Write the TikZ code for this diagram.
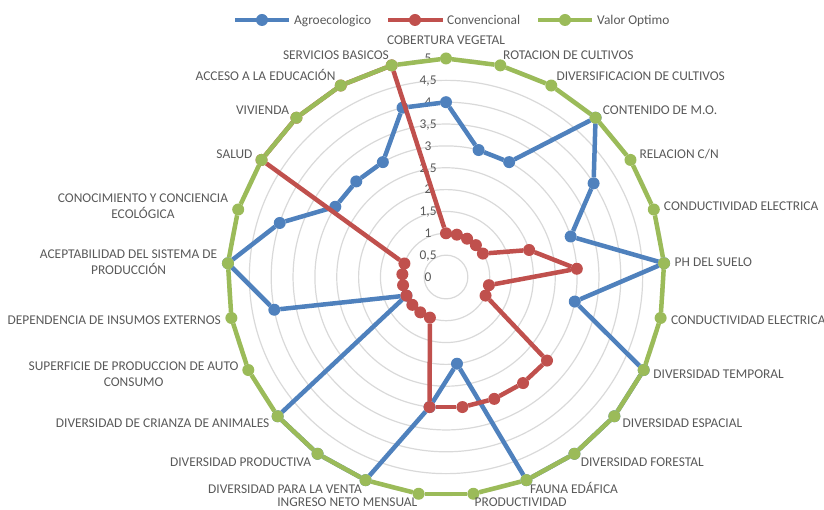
\documentclass[tikz,border=0pt]{standalone}
\usepackage{fontspec}
\setmainfont{Carlito}
\definecolor{agroblue}{HTML}{4F81BD}
\definecolor{convred}{HTML}{C0504D}
\definecolor{optgreen}{HTML}{9BBB59}
\definecolor{labgray}{HTML}{595959}
\definecolor{ringgray}{HTML}{D9D9D9}
\tikzset{
  dot/.style={circle, fill, draw=none, inner sep=0pt, outer sep=0pt, minimum size=12pt},
  agrodot/.style={dot, fill=agroblue},
  convdot/.style={dot, fill=convred},
  optdot/.style={dot, fill=optgreen},
  agroline/.style={draw=agroblue, line width=4.5pt},
  convline/.style={draw=convred, line width=4.5pt},
  optline/.style={draw=optgreen, line width=4.5pt},
  ring/.style={draw=ringgray, line width=1.2pt},
  txt/.style={text=labgray, inner sep=0pt, font=\fontsize{13.4}{16}\selectfont},
  axislab/.style={txt, text height=8.6pt, text depth=0pt},
  axislabm/.style={txt, align=center},
  ticklab/.style={txt, text height=8.6pt, text depth=0pt}
}
\begin{document}
\begin{tikzpicture}[x=1pt, y=-1pt]
  \useasboundingbox (0,0) rectangle (824,510);
  % legend
  \coordinate (lega-w) at (235,20);
  \coordinate (lega-e) at (289,20);
  \coordinate (legc-w) at (388,20);
  \coordinate (legc-e) at (443,20);
  \coordinate (legv-w) at (538,20);
  \coordinate (legv-e) at (592,20);
  \draw[agroline] (lega-w) -- (lega-e);
  \draw[convline] (legc-w) -- (legc-e);
  \draw[optline] (legv-w) -- (legv-e);
  \node[agrodot] (lega) at (262,20) {};
  \node[convdot] (legc) at (415,20) {};
  \node[optdot] (legv) at (565,20) {};
  \node[axislab, anchor=west] (legat) at (294,20) {Agroecologico};
  \node[axislab, anchor=west] (legct) at (447,20) {Convencional};
  \node[axislab, anchor=west] (legvt) at (597,20) {Valor Optimo};

  \begin{scope}[shift={(446,277)}, x=43.7pt, y=-43.7pt]
    % rings
    \draw[ring] (0,0) circle (0.5);
    \draw[ring] (0,0) circle (1);
    \draw[ring] (0,0) circle (1.5);
    \draw[ring] (0,0) circle (2);
    \draw[ring] (0,0) circle (2.5);
    \draw[ring] (0,0) circle (3);
    \draw[ring] (0,0) circle (3.5);
    \draw[ring] (0,0) circle (4);
    \draw[ring] (0,0) circle (4.5);
    \draw[ring] (0,0) circle (5);

    % scale
    \node[ticklab] (t0) at (-0.41,0) {0};
    \node[ticklab] (t1) at (-0.41,-0.5) {0,5};
    \node[ticklab] (t2) at (-0.41,-1) {1};
    \node[ticklab] (t3) at (-0.41,-1.5) {1,5};
    \node[ticklab] (t4) at (-0.41,-2) {2};
    \node[ticklab] (t5) at (-0.41,-2.5) {2,5};
    \node[ticklab] (t6) at (-0.41,-3) {3};
    \node[ticklab] (t7) at (-0.41,-3.5) {3,5};
    \node[ticklab] (t8) at (-0.41,-4) {4};
    \node[ticklab] (t9) at (-0.41,-4.5) {4,5};
    \node[ticklab] (t10) at (-0.41,-5) {5};

    % Agroecologico
    \draw
      (-90.0:4) node[agrodot] (a0) {}
      (-75.6:3) node[agrodot] (a1) {}
      (-61.2:3) node[agrodot] (a2) {}
      (-46.8:5) node[agrodot] (a3) {}
      (-32.4:4) node[agrodot] (a4) {}
      (-18.0:3) node[agrodot] (a5) {}
      (-3.6:5) node[agrodot] (a6) {}
      (10.8:3) node[agrodot] (a7) {}
      (25.2:5) node[agrodot] (a8) {}
      (39.6:5) node[agrodot] (a9) {}
      (54.0:5) node[agrodot] (a10) {}
      (68.4:5) node[agrodot] (a11) {}
      (82.8:2) node[agrodot] (a12) {}
      (97.2:3) node[agrodot] (a13) {}
      (111.6:5) node[agrodot] (a14) {}
      (126.0:5) node[agrodot] (a15) {}
      (140.4:5) node[agrodot] (a16) {}
      (154.8:1) node[agrodot] (a17) {}
      (169.2:4) node[agrodot] (a18) {}
      (183.6:5) node[agrodot] (a19) {}
      (198.0:4) node[agrodot] (a20) {}
      (212.4:3) node[agrodot] (a21) {}
      (226.8:3) node[agrodot] (a22) {}
      (241.2:3) node[agrodot] (a23) {}
      (255.6:4) node[agrodot] (a24) {};
    \begin{scope}[agroline]
      \draw (a0) to (a1);
      \draw (a1) to (a2);
      \draw (a2) to (a3);
      \draw (a3) to (a4);
      \draw (a4) to (a5);
      \draw (a5) to (a6);
      \draw (a6) to (a7);
      \draw (a7) to (a8);
      \draw (a8) to (a9);
      \draw (a9) to (a10);
      \draw (a10) to (a11);
      \draw (a11) to (a12);
      \draw (a12) to (a13);
      \draw (a13) to (a14);
      \draw (a14) to (a15);
      \draw (a15) to (a16);
      \draw (a16) to (a17);
      \draw (a17) to (a18);
      \draw (a18) to (a19);
      \draw (a19) to (a20);
      \draw (a20) to (a21);
      \draw (a21) to (a22);
      \draw (a22) to (a23);
      \draw (a23) to (a24);
      \draw (a24) to (a0);
    \end{scope}

    % Convencional
    \draw
      (-90.0:1) node[convdot] (c0) {}
      (-75.6:1) node[convdot] (c1) {}
      (-61.2:1) node[convdot] (c2) {}
      (-46.8:1) node[convdot] (c3) {}
      (-32.4:1) node[convdot] (c4) {}
      (-18.0:2) node[convdot] (c5) {}
      (-3.6:3) node[convdot] (c6) {}
      (10.8:1) node[convdot] (c7) {}
      (25.2:1) node[convdot] (c8) {}
      (39.6:3) node[convdot] (c9) {}
      (54.0:3) node[convdot] (c10) {}
      (68.4:3) node[convdot] (c11) {}
      (82.8:3) node[convdot] (c12) {}
      (97.2:3) node[convdot] (c13) {}
      (111.6:1) node[convdot] (c14) {}
      (126.0:1) node[convdot] (c15) {}
      (140.4:1) node[convdot] (c16) {}
      (154.8:1) node[convdot] (c17) {}
      (169.2:1) node[convdot] (c18) {}
      (183.6:1) node[convdot] (c19) {}
      (198.0:1) node[convdot] (c20) {}
      (212.4:5) node[convdot] (c21) {}
      (226.8:5) node[convdot] (c22) {}
      (241.2:5) node[convdot] (c23) {}
      (255.6:5) node[convdot] (c24) {};
    \begin{scope}[convline]
      \draw (c0) to (c1);
      \draw (c1) to (c2);
      \draw (c2) to (c3);
      \draw (c3) to (c4);
      \draw (c4) to (c5);
      \draw (c5) to (c6);
      \draw (c6) to (c7);
      \draw (c7) to (c8);
      \draw (c8) to (c9);
      \draw (c9) to (c10);
      \draw (c10) to (c11);
      \draw (c11) to (c12);
      \draw (c12) to (c13);
      \draw (c13) to (c14);
      \draw (c14) to (c15);
      \draw (c15) to (c16);
      \draw (c16) to (c17);
      \draw (c17) to (c18);
      \draw (c18) to (c19);
      \draw (c19) to (c20);
      \draw (c20) to (c21);
      \draw (c21) to (c22);
      \draw (c22) to (c23);
      \draw (c23) to (c24);
      \draw (c24) to (c0);
    \end{scope}

    % Valor Optimo
    \draw
      (-90.0:5) node[optdot] (v0) {}
      (-75.6:5) node[optdot] (v1) {}
      (-61.2:5) node[optdot] (v2) {}
      (-46.8:5) node[optdot] (v3) {}
      (-32.4:5) node[optdot] (v4) {}
      (-18.0:5) node[optdot] (v5) {}
      (-3.6:5) node[optdot] (v6) {}
      (10.8:5) node[optdot] (v7) {}
      (25.2:5) node[optdot] (v8) {}
      (39.6:5) node[optdot] (v9) {}
      (54.0:5) node[optdot] (v10) {}
      (68.4:5) node[optdot] (v11) {}
      (82.8:5) node[optdot] (v12) {}
      (97.2:5) node[optdot] (v13) {}
      (111.6:5) node[optdot] (v14) {}
      (126.0:5) node[optdot] (v15) {}
      (140.4:5) node[optdot] (v16) {}
      (154.8:5) node[optdot] (v17) {}
      (169.2:5) node[optdot] (v18) {}
      (183.6:5) node[optdot] (v19) {}
      (198.0:5) node[optdot] (v20) {}
      (212.4:5) node[optdot] (v21) {}
      (226.8:5) node[optdot] (v22) {}
      (241.2:5) node[optdot] (v23) {}
      (255.6:5) node[optdot] (v24) {};
    \begin{scope}[optline]
      \draw (v0) to (v1);
      \draw (v1) to (v2);
      \draw (v2) to (v3);
      \draw (v3) to (v4);
      \draw (v4) to (v5);
      \draw (v5) to (v6);
      \draw (v6) to (v7);
      \draw (v7) to (v8);
      \draw (v8) to (v9);
      \draw (v9) to (v10);
      \draw (v10) to (v11);
      \draw (v11) to (v12);
      \draw (v12) to (v13);
      \draw (v13) to (v14);
      \draw (v14) to (v15);
      \draw (v15) to (v16);
      \draw (v16) to (v17);
      \draw (v17) to (v18);
      \draw (v18) to (v19);
      \draw (v19) to (v20);
      \draw (v20) to (v21);
      \draw (v21) to (v22);
      \draw (v22) to (v23);
      \draw (v23) to (v24);
      \draw (v24) to (v0);
    \end{scope}

    % category labels
    \node[axislab, anchor=south] (l0) at (-90.0:5.32) {COBERTURA VEGETAL};
    \node[axislab, anchor=west] (l1) at (-75.6:5.24) {ROTACION DE CULTIVOS};
    \node[axislab, anchor=west] (l2) at (-61.2:5.24) {DIVERSIFICACION DE CULTIVOS};
    \node[axislab, anchor=west] (l3) at (-46.8:5.24) {CONTENIDO DE M.O.};
    \node[axislab, anchor=west] (l4) at (-32.4:5.24) {RELACION C/N};
    \node[axislab, anchor=west] (l5) at (-18.0:5.24) {CONDUCTIVIDAD ELECTRICA};
    \node[axislab, anchor=west] (l6) at (-3.6:5.24) {PH DEL SUELO};
    \node[axislab, anchor=west] (l7) at (10.8:5.24) {CONDUCTIVIDAD ELECTRICA};
    \node[axislab, anchor=west] (l8) at (25.2:5.24) {DIVERSIDAD TEMPORAL};
    \node[axislab, anchor=west] (l9) at (39.6:5.24) {DIVERSIDAD ESPACIAL};
    \node[axislab, anchor=west] (l10) at (54.0:5.24) {DIVERSIDAD FORESTAL};
    \node[axislab, anchor=west] (l11) at (68.4:5.22) {FAUNA EDÁFICA};
    \node[axislab, anchor=west] (l12) at (82.8:5.2) {PRODUCTIVIDAD};
    \node[axislab, anchor=east] (l13) at (97.2:5.2) {INGRESO NETO MENSUAL};
    \node[axislab, anchor=east] (l14) at (111.6:5.22) {DIVERSIDAD PARA LA VENTA};
    \node[axislab, anchor=east] (l15) at (126.0:5.24) {DIVERSIDAD PRODUCTIVA};
    \node[axislab, anchor=east] (l16) at (140.4:5.24) {DIVERSIDAD DE CRIANZA DE ANIMALES};
    \node[axislabm, anchor=east] (l17) at (154.8:5.24) {SUPERFICIE DE PRODUCCION DE AUTO\\CONSUMO};
    \node[axislab, anchor=east] (l18) at (169.2:5.24) {DEPENDENCIA DE INSUMOS EXTERNOS};
    \node[axislabm, anchor=east] (l19) at (183.6:5.24) {ACEPTABILIDAD DEL SISTEMA DE\\PRODUCCIÓN};
    \node[axislabm, anchor=east] (l20) at (198.0:5.24) {CONOCIMIENTO Y CONCIENCIA\\ECOLÓGICA};
    \node[axislab, anchor=east] (l21) at (212.4:5.24) {SALUD};
    \node[axislab, anchor=east] (l22) at (226.8:5.24) {VIVIENDA};
    \node[axislab, anchor=east] (l23) at (241.2:5.24) {ACCESO A LA EDUCACIÓN};
    \node[axislab, anchor=east] (l24) at (255.6:5.24) {SERVICIOS BASICOS};
  \end{scope}
\end{tikzpicture}
\end{document}
